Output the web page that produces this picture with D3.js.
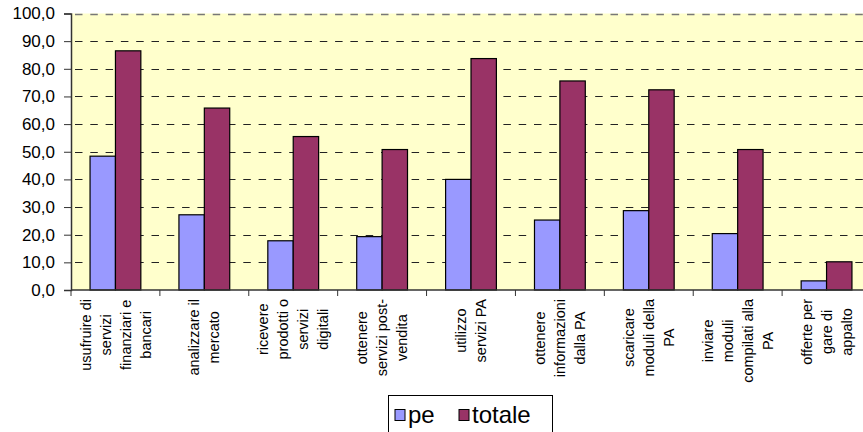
<!DOCTYPE html>
<html>
<head>
<meta charset="utf-8">
<title>pe vs totale</title>
<style>
  body { margin: 0; background: #fff; }
  text { font-family: "Liberation Sans", Arial, sans-serif; fill: #000; }
</style>
</head>
<body>
<div id="chart"></div>
<script src="https://cdn.jsdelivr.net/npm/d3@7"></script>
<script>
// data
const categoryLines = [
  ["usufruire di", "servizi", "finanziari e", "bancari"],
  ["analizzare il", "mercato"],
  ["ricevere", "prodotti o", "servizi", "digitali"],
  ["ottenere", "servizi post-", "vendita"],
  ["utilizzo", "servizi PA"],
  ["ottenere", "informazioni", "dalla PA"],
  ["scaricare", "moduli della", "PA"],
  ["inviare", "moduli", "compilati alla", "PA"],
  ["offerte per", "gare di", "appalto"]
];
const categories = categoryLines.map(l => l.join(" "));
const series = ["pe", "totale"];
const peValues = [48.4, 27.2, 17.8, 19.3, 40.0, 25.3, 28.7, 20.4, 3.3];
const totaleValues = [86.5, 65.8, 55.5, 50.8, 83.7, 75.6, 72.4, 50.8, 10.2];
const yTicks = [0, 10, 20, 30, 40, 50, 60, 70, 80, 90, 100];
const colors = ["#9999FF", "#993366"];

const W = 863, H = 432;
const plot = {left: 71, top: 13.5, bottom: 290, right: 871};

const svg = d3.select("#chart").append("svg")
  .attr("width", W).attr("height", H);

// plot area background
svg.append("rect")
  .attr("x", plot.left).attr("y", plot.top)
  .attr("width", plot.right - plot.left).attr("height", plot.bottom - plot.top)
  .attr("fill", "#FFFFCC");

const x0 = d3.scaleBand().domain(categories).range([plot.left, plot.right]);
const x1 = d3.scaleBand().domain(series).range([0, x0.bandwidth()])
  .paddingInner(0).paddingOuter(0.75);
const y = d3.scaleLinear().domain([0, 100]).range([plot.bottom, plot.top]);

// gridlines
svg.append("g").selectAll("line").data(yTicks.filter(d => d > 0)).join("line")
  .attr("x1", plot.left).attr("x2", plot.right)
  .attr("y1", d => Math.round(y(d)) + 0.5).attr("y2", d => Math.round(y(d)) + 0.5)
  .attr("stroke", d => d === 100 ? "#777" : "#222")
  .attr("stroke-width", d => d === 100 ? 1.5 : 1)
  .attr("stroke-dasharray", "7.5,7.8")
  .attr("stroke-dashoffset", -4);

// bars
const rows = categories.map((c, i) => ({cat: c, vals: [peValues[i], totaleValues[i]]}));
const groups = svg.append("g").selectAll("g").data(rows).join("g")
  .attr("transform", d => "translate(" + x0(d.cat) + ",0)");
groups.selectAll("rect").data(d => d.vals.map((v, j) => ({key: series[j], v: v, j: j})))
  .join("rect")
  .attr("x", d => x1(d.key))
  .attr("y", d => y(d.v))
  .attr("width", x1.bandwidth())
  .attr("height", d => y(0) - y(d.v))
  .attr("fill", d => colors[d.j])
  .attr("stroke", "#000")
  .attr("stroke-width", 1.2);

// y axis
const yAxis = svg.append("g")
  .attr("transform", "translate(" + plot.left + ",0)")
  .call(d3.axisLeft(y).tickValues(yTicks).tickSize(7).tickPadding(9)
    .tickFormat(d => d3.format(".1f")(d).replace(".", ",")));
yAxis.select(".domain").attr("stroke", "#333").attr("stroke-width", 1.5);
yAxis.selectAll(".tick line").attr("stroke", "#333");
yAxis.selectAll("text").style("font-size", "17px")
  .style("font-family", "'Liberation Sans', Arial, sans-serif");

// x axis
const xAxis = svg.append("g")
  .attr("transform", "translate(0," + plot.bottom + ")");
xAxis.append("line")
  .attr("x1", plot.left).attr("x2", plot.right)
  .attr("y1", 0).attr("y2", 0)
  .attr("stroke", "#333").attr("stroke-width", 1.5);
xAxis.selectAll("line.tick").data(categories.concat(["end"])).join("line")
  .attr("class", "tick")
  .attr("x1", (d, i) => i < categories.length ? x0(d) : plot.right)
  .attr("x2", (d, i) => i < categories.length ? x0(d) : plot.right)
  .attr("y1", 0).attr("y2", 6)
  .attr("stroke", "#333");

// x labels, rotated, multi-line
const lineGap = 20;
const labels = svg.append("g").selectAll("text").data(categoryLines).join("text")
  .style("font-size", "14.5px")
  .attr("text-anchor", "middle");
labels.each(function(lines, i) {
  const t = d3.select(this);
  lines.forEach((ln, k) => {
    t.append("tspan")
      .attr("x", 0)
      .attr("y", (k - (lines.length - 1) / 2) * lineGap)
      .attr("dy", "0.35em")
      .text(ln);
  });
  let maxLen = 0;
  t.selectAll("tspan").each(function() {
    maxLen = Math.max(maxLen, this.getComputedTextLength());
  });
  const cx = x0(categories[i]) + x0.bandwidth() / 2;
  const cy = 299 + maxLen / 2;
  t.attr("transform", "translate(" + cx + "," + cy + ") rotate(-90)");
});

// legend
const legend = svg.append("g").attr("transform", "translate(388.5,395.5)");
legend.append("rect")
  .attr("width", 164).attr("height", 50)
  .attr("fill", "#fff").attr("stroke", "#000").attr("stroke-width", 1);
const legendX = [6.5, 70.5];
const item = legend.selectAll("g.item").data(series).join("g")
  .attr("class", "item")
  .attr("transform", (d, i) => "translate(" + legendX[i] + ",0)");
item.append("rect")
  .attr("x", 0).attr("y", 14)
  .attr("width", 10).attr("height", 11)
  .attr("fill", (d, i) => colors[i])
  .attr("stroke", "#000");
item.append("text")
  .attr("x", 13).attr("y", 27.5)
  .style("font-size", "24px")
  .text(d => d);
</script>
</body>
</html>
